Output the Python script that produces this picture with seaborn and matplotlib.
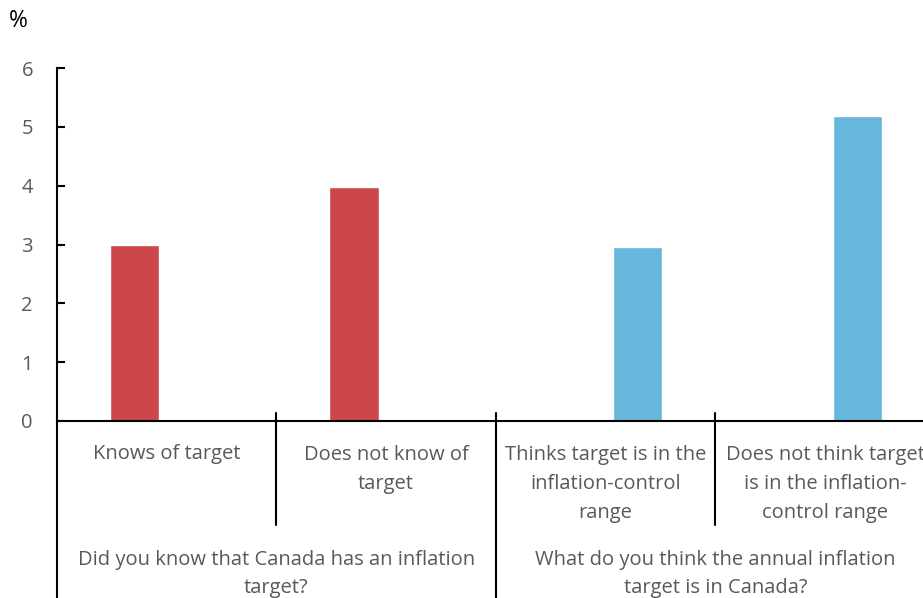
import matplotlib
matplotlib.use("Agg")
import matplotlib.pyplot as plt
import seaborn as sns
import pandas as pd
from matplotlib.lines import Line2D
from matplotlib.transforms import blended_transform_factory

categories = ["Knows of target", "Does not know of\ntarget",
              "Thinks target is in the\ninflation-control\nrange",
              "Does not think target\nis in the inflation-\ncontrol range"]
series = ["Awareness", "Perceived target"]
series_of_cat = ["Awareness", "Awareness", "Perceived target", "Perceived target"]
values = [3.0, 3.98, 2.96, 5.18]
groups = ["Did you know that Canada has an inflation\ntarget?",
          "What do you think the annual inflation\ntarget is in Canada?"]
yticks = [0, 1, 2, 3, 4, 5, 6]
colors = ["#CC474A", "#67B6DC"]

sns.set_theme(style="white")
plt.rcParams['font.family'] = ['Open Sans', 'DejaVu Sans']

W, H = 923, 598
fig = plt.figure(figsize=(W / 100, H / 100), dpi=100)
left_px, right_px, top_px, bot_px = 56.5, 935, 68, 421
ax = fig.add_axes([left_px / W, 1 - bot_px / H, (right_px - left_px) / W, (bot_px - top_px) / H])

df = pd.DataFrame({"category": categories, "series": series_of_cat, "value": values})
sns.barplot(data=df, x="category", y="value", hue="series", order=categories,
            hue_order=series, palette=colors, width=0.583, gap=0.23, dodge=True,
            legend=False, saturation=1, ax=ax)

FS = 14.5
LS = 1.6
STEP = 29.5
ax.set_xlim(-0.5, 3.5)
ax.set_ylim(0, 6)
ax.set_yticks(yticks)
ax.set_yticklabels([str(t) for t in yticks], color="#595959", fontsize=FS)
ax.tick_params(axis="y", direction="in", length=6, width=1.5, pad=17, left=True, colors="black", labelcolor="#595959")
ax.set_xticks([])
ax.set_xlabel("")
ax.set_ylabel("")
for s in ["top", "right"]:
    ax.spines[s].set_visible(False)
for s in ["left", "bottom"]:
    ax.spines[s].set_color("black")
    ax.spines[s].set_linewidth(1.5)

fig.text(9 / W, 1 - 27 / H, "%", fontsize=16.5, color="black", va="baseline", ha="left")

bt = blended_transform_factory(ax.transData, fig.transFigure)
def fy(py):
    return 1 - py / H

# separators
for xb in [0.5, 2.5]:
    fig.add_artist(Line2D([xb, xb], [fy(413), fy(525)], transform=bt, color="black", lw=1.5))
fig.add_artist(Line2D([1.5, 1.5], [fy(413), fy(598)], transform=bt, color="black", lw=1.5))
fig.add_artist(Line2D([-0.5, -0.5], [fy(421), fy(598)], transform=bt, color="black", lw=1.5))

txtc = "#595959"
for i, c in enumerate(categories):
    n = c.count("\n")
    ax.text(i, fy(459 + n * STEP), c, transform=bt, ha="center", va="baseline", fontsize=FS,
            color=txtc, linespacing=LS)
for j, g in enumerate(groups):
    n = g.count("\n")
    ax.text(0.5 + 2 * j, fy(564 + n * STEP), g, transform=bt, ha="center", va="baseline", fontsize=FS,
            color=txtc, linespacing=LS)

fig.savefig("out.png", dpi=100)
